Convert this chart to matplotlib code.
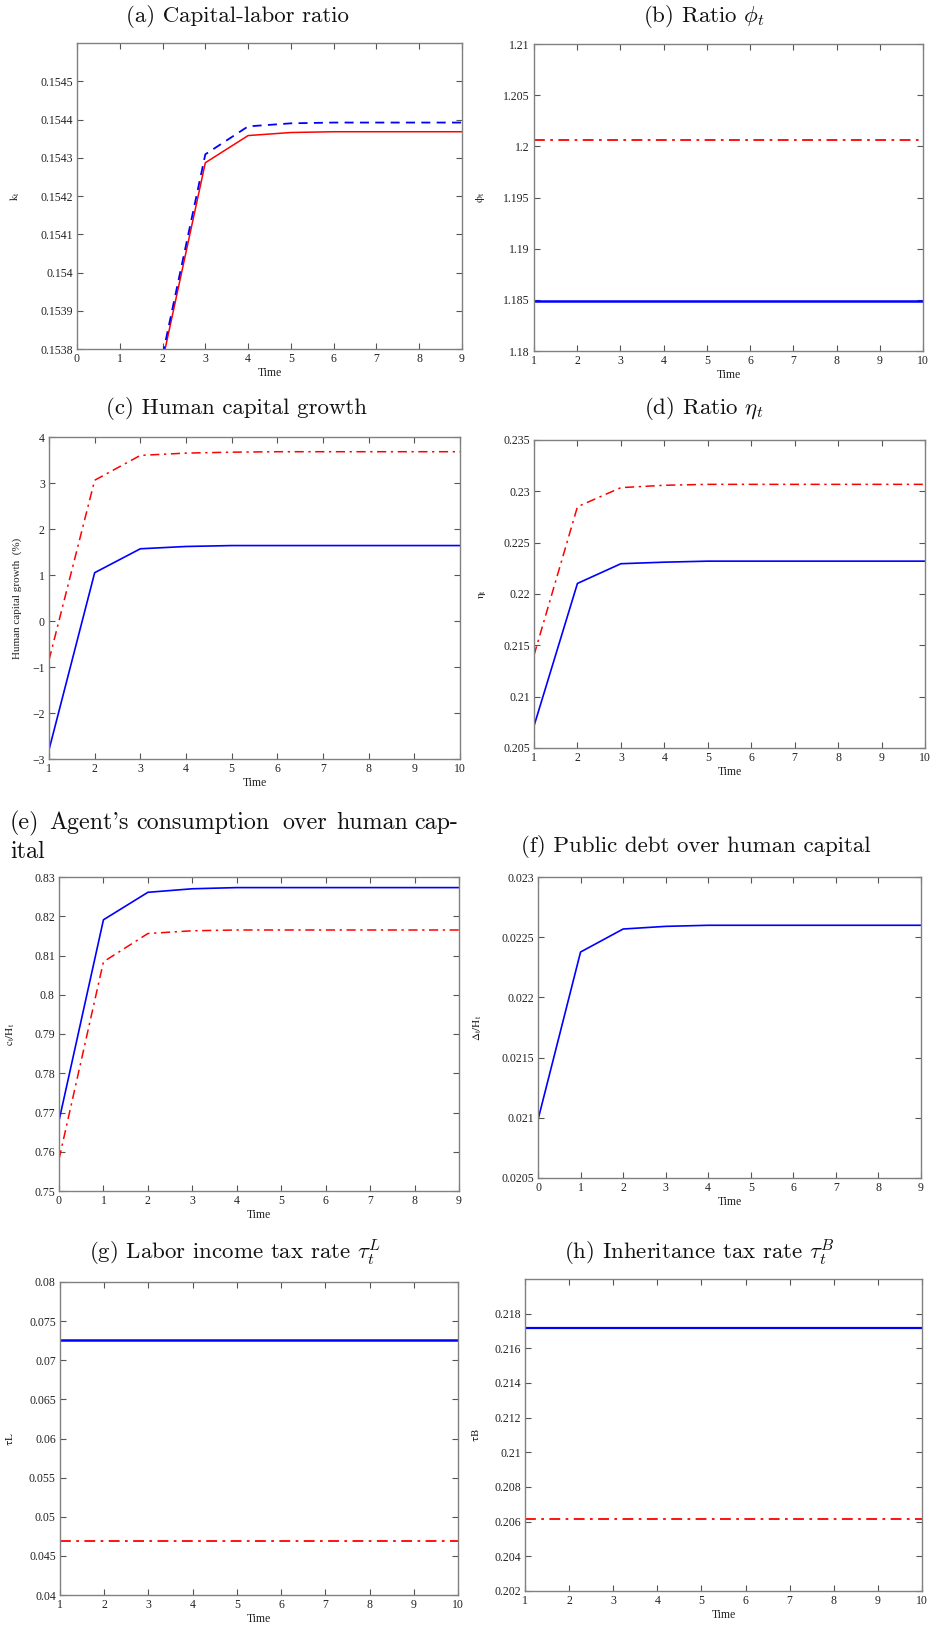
import numpy as np
import matplotlib
matplotlib.use("Agg")
import matplotlib.pyplot as plt
from matplotlib.ticker import FuncFormatter

plt.rcParams['font.family'] = ['Liberation Serif', 'DejaVu Serif']
plt.rcParams['mathtext.fontset'] = 'cm'

# ---- data ----
t_k = [2, 3, 4, 5, 6, 7, 8, 9]
k_blue = [0.153784, 0.154309, 0.154382, 0.154390, 0.154392, 0.154392, 0.154392, 0.154392]
k_red = [0.153769, 0.154287, 0.154358, 0.154366, 0.154368, 0.154368, 0.154368, 0.154368]

t = [1, 2, 3, 4, 5, 6, 7, 8, 9, 10]
t0 = [0, 1, 2, 3, 4, 5, 6, 7, 8, 9]

phi_blue = [1.18485, 1.18485, 1.18485, 1.18485, 1.18485, 1.18485, 1.18485, 1.18485, 1.18485, 1.18485]
phi_red = [1.20063, 1.20063, 1.20063, 1.20063, 1.20063, 1.20063, 1.20063, 1.20063, 1.20063, 1.20063]

hg_blue = [-2.80, 1.05, 1.57, 1.62, 1.64, 1.64, 1.64, 1.64, 1.64, 1.64]
hg_red = [-0.85, 3.06, 3.60, 3.65, 3.67, 3.68, 3.68, 3.68, 3.68, 3.68]

eta_blue = [0.20715, 0.22103, 0.22295, 0.22310, 0.22320, 0.22320, 0.22320, 0.22320, 0.22320, 0.22320]
eta_red = [0.21404, 0.22850, 0.23036, 0.23059, 0.23068, 0.23068, 0.23068, 0.23068, 0.23068, 0.23068]

cH_blue = [0.7679, 0.8191, 0.8261, 0.8270, 0.8273, 0.8273, 0.8273, 0.8273, 0.8273, 0.8273]
cH_red = [0.7581, 0.8084, 0.8156, 0.8163, 0.8165, 0.8165, 0.8165, 0.8165, 0.8165, 0.8165]

dH_blue = [0.020984, 0.022377, 0.022568, 0.022590, 0.022599, 0.022599, 0.022599, 0.022599, 0.022599, 0.022599]

tauL_blue = [0.07255, 0.07255, 0.07255, 0.07255, 0.07255, 0.07255, 0.07255, 0.07255, 0.07255, 0.07255]
tauL_red = [0.04685, 0.04685, 0.04685, 0.04685, 0.04685, 0.04685, 0.04685, 0.04685, 0.04685, 0.04685]

tauB_blue = [0.21718, 0.21718, 0.21718, 0.21718, 0.21718, 0.21718, 0.21718, 0.21718, 0.21718, 0.21718]
tauB_red = [0.20617, 0.20617, 0.20617, 0.20617, 0.20617, 0.20617, 0.20617, 0.20617, 0.20617, 0.20617]

W, H = 932, 1630
fig = plt.figure(figsize=(W / 100, H / 100), dpi=100)

DASHDOT = (0, (6, 3, 1.5, 3))
fmt = FuncFormatter(lambda v, _: f"{v:g}".replace('-', '\u2212'))


def panel(l, r, top, bot, xlim, ylim, yticks, ylabel, ylab_off):
    ax = fig.add_axes([l / W, 1 - bot / H, (r - l) / W, (bot - top) / H])
    ax.set_xlim(*xlim)
    ax.set_ylim(*ylim)
    ax.set_xticks(range(xlim[0], xlim[1] + 1))
    ax.set_yticks(yticks)
    ax.yaxis.set_major_formatter(fmt)
    ax.xaxis.set_major_formatter(fmt)
    ax.tick_params(direction='in', top=True, right=True, length=4, width=0.8,
                   color='#555555', labelsize=8.5, labelcolor='#222222', pad=3)
    for s in ax.spines.values():
        s.set_color('#808080')
        s.set_linewidth(1.0)
    ax.set_xlabel('Time', fontsize=8.5, labelpad=1, color='#222222')
    ax.set_ylabel(ylabel, fontsize=8, color='#222222', math_fontfamily='stix')
    ax.yaxis.set_label_coords(-ylab_off / (r - l), 0.5)
    return ax


def title(x, y, s, ha='center', size=16.5):
    fig.text(x / W, 1 - y / H, s, ha=ha, va='center', fontsize=size,
             family='cmr10', color='#111111')


# (a)
ax = panel(77, 462, 43, 349, (0, 9), (0.1538, 0.1546),
           np.arange(0.1538, 0.15455, 0.0001), r'$\mathrm{k_t}$', 55)
ax.plot(t_k, k_red, color='red', lw=1.1)
ax.plot(t_k, k_blue, color='blue', lw=1.3, linestyle=(0, (5, 3.5)))
title(237, 17, '(a) Capital-labor ratio')

# (b)
ax = panel(534, 923, 44, 351, (1, 10), (1.18, 1.21),
           np.arange(1.18, 1.2101, 0.005), r'$\mathrm{\phi_t}$', 47)
ax.plot(t, phi_red, color='red', lw=1.3, linestyle=DASHDOT)
ax.plot(t, phi_blue, color='blue', lw=1.8)
title(704, 17, r'(b) Ratio $\phi_t$')

# (c)
ax = panel(49, 460, 437, 759, (1, 10), (-3, 4),
           np.arange(-3, 4.1, 1), 'Human capital growth  (%)', 27)
ax.plot(t, hg_red, color='red', lw=1.1, linestyle=DASHDOT)
ax.plot(t, hg_blue, color='blue', lw=1.2)
title(237, 408, '(c) Human capital growth')

# (d)
ax = panel(534, 925, 440, 748, (1, 10), (0.205, 0.235),
           np.arange(0.205, 0.2351, 0.005), r'$\mathrm{\eta_t}$', 46)
ax.plot(t, eta_red, color='red', lw=1.1, linestyle=DASHDOT)
ax.plot(t, eta_blue, color='blue', lw=1.2)
title(704, 409, r'(d) Ratio $\eta_t$')

# (e)
ax = panel(59, 459, 877, 1191, (0, 9), (0.75, 0.83),
           np.arange(0.75, 0.8301, 0.01), r'$\mathrm{c_t/H_t}$', 42)
ax.plot(t0, cH_red, color='red', lw=1.1, linestyle=DASHDOT)
ax.plot(t0, cH_blue, color='blue', lw=1.2)
# justified caption line, word by word
for x, word in [(10, '(e)'), (49, "Agent's"), (136, 'consumption'),
                (282, 'over'), (336, 'human'), (414, 'cap-')]:
    title(x, 823, word, ha='left', size=17.3)
title(10, 852, 'ital', ha='left', size=17.3)

# (f)
ax = panel(538, 921, 877, 1178, (0, 9), (0.0205, 0.023),
           np.arange(0.0205, 0.02301, 0.0005), r'$\mathrm{\Delta_t/H_t}$', 54)
ax.plot(t0, dH_blue, color='blue', lw=1.2)
title(696, 847, '(f) Public debt over human capital')

# (g)
ax = panel(60, 458, 1282, 1595, (1, 10), (0.04, 0.08),
           np.arange(0.04, 0.0801, 0.005), r'$\mathrm{\tau L}$', 45)
ax.plot(t, tauL_red, color='red', lw=1.3, linestyle=DASHDOT)
ax.plot(t, tauL_blue, color='blue', lw=1.8)
title(235, 1253, r'(g) Labor income tax rate $\tau_t^L$')

# (h)
ax = panel(525, 922, 1279, 1591, (1, 10), (0.202, 0.22),
           np.arange(0.202, 0.2181, 0.002), r'$\mathrm{\tau B}$', 44)
ax.plot(t, tauB_red, color='red', lw=1.3, linestyle=DASHDOT)
ax.plot(t, tauB_blue, color='blue', lw=1.6)
title(699, 1253, r'(h) Inheritance tax rate $\tau_t^B$')

fig.savefig('out.png', dpi=100)
